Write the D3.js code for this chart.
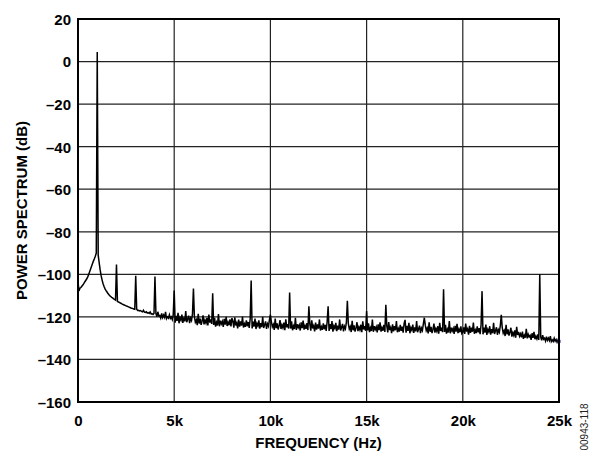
<!DOCTYPE html>
<html>
<head>
<meta charset="utf-8">
<script src="https://cdn.jsdelivr.net/npm/d3@7/dist/d3.min.js"></script>
<style>
  html, body { margin: 0; padding: 0; background: #fff; }
  svg { display: block; }
  text { font-family: "Liberation Sans", Arial, sans-serif; }
</style>
</head>
<body>
<svg id="chart" width="596" height="456"></svg>
<script>
// ---- Data ----
const xTicks = [0, 5000, 10000, 15000, 20000, 25000];
const xTickLabels = ["0", "5k", "10k", "15k", "20k", "25k"];
const yTicks = [20, 0, -20, -40, -60, -80, -100, -120, -140, -160];
const yTickLabels = ["20", "0", "–20", "–40", "–60", "–80", "–100", "–120", "–140", "–160"];

// FFT bin spacing (Hz) of the noise-floor readings below
const binHz = 50;
// Noise floor (dB), one row per kHz, 20 bins per row
const floorDb = [
  -103.5,-107.8,-106.5,-106.2,-105.6,-105.0,-104.4,-103.6,-102.9,-102.2,-101.3,-100.2,-98.9,-97.6,-96.3,-95.0,-93.8,-92.7,-91.5,-90.0,
  -88.5,-91.0,-94.5,-97.8,-100.5,-102.6,-104.3,-105.6,-106.7,-107.5,-108.2,-108.9,-109.5,-110.0,-110.4,-110.8,-111.1,-111.5,-111.8,-112.1,
  -112.4,-112.7,-113.0,-113.2,-113.5,-113.7,-114.0,-114.2,-114.4,-114.6,-114.8,-115.0,-115.2,-115.4,-115.6,-115.8,-115.9,-116.1,-116.3,-116.4,
  -116.6,-116.4,-117.0,-116.9,-117.2,-117.0,-117.4,-117.6,-116.9,-117.8,-117.9,-117.6,-118.2,-118.0,-118.4,-117.7,-118.6,-118.5,-118.9,-118.4,
  -119.2,-118.3,-119.9,-117.6,-119.6,-119.4,-120.6,-118.4,-120.3,-119.1,-120.2,-117.6,-120.8,-120.0,-120.6,-119.0,-120.7,-120.0,-121.2,-118.9,
  -120.8,-122.7,-119.5,-121.9,-118.1,-123.0,-120.4,-121.5,-118.9,-122.8,-120.2,-122.1,-117.3,-122.5,-121.0,-119.4,-122.9,-120.6,-121.7,-118.6,
  -123.4,-120.0,-122.5,-121.4,-123.9,-118.6,-123.1,-120.8,-123.7,-122.0,-119.3,-123.5,-121.6,-122.9,-120.5,-124.0,-118.9,-122.7,-121.2,-123.3,
  -121.7,-123.8,-120.4,-124.6,-122.6,-124.0,-118.7,-124.4,-121.8,-123.3,-122.1,-124.7,-120.9,-123.6,-120.0,-124.3,-122.5,-123.9,-121.2,-124.5,
  -124.3,-122.0,-125.1,-120.2,-124.0,-122.8,-125.4,-121.3,-124.6,-122.1,-124.1,-119.8,-125.0,-123.3,-124.7,-121.6,-124.4,-122.4,-125.2,-120.8,
  -123.5,-125.4,-122.2,-124.6,-120.8,-125.7,-123.1,-124.2,-121.6,-125.5,-122.9,-124.8,-120.0,-125.2,-123.7,-122.1,-125.6,-123.3,-124.4,-121.3,
  -125.6,-122.2,-124.7,-123.6,-126.1,-120.8,-125.3,-123.0,-125.9,-124.2,-121.5,-125.7,-123.8,-125.1,-122.7,-126.2,-121.1,-124.9,-123.4,-125.5,
  -123.4,-125.5,-122.1,-126.3,-124.3,-125.7,-120.4,-126.1,-123.5,-125.0,-123.8,-126.4,-122.6,-125.3,-121.7,-126.0,-124.2,-125.6,-122.9,-126.2,
  -125.7,-123.4,-126.5,-121.6,-125.4,-124.2,-126.8,-122.7,-126.0,-123.5,-125.5,-121.2,-126.4,-124.7,-126.1,-123.0,-125.8,-123.8,-126.6,-122.2,
  -124.7,-126.6,-123.4,-125.8,-122.0,-126.9,-124.3,-125.4,-122.8,-126.7,-124.1,-126.0,-121.2,-126.4,-124.9,-123.3,-126.8,-124.5,-125.6,-122.5,
  -126.6,-123.2,-125.7,-124.6,-127.1,-121.8,-126.3,-124.0,-126.9,-125.2,-122.5,-126.7,-124.8,-126.1,-123.7,-127.2,-122.1,-125.9,-124.4,-126.5,
  -124.3,-126.4,-123.0,-127.2,-125.2,-126.6,-121.3,-127.0,-124.4,-125.9,-124.7,-127.3,-123.5,-126.2,-122.6,-126.9,-125.1,-126.5,-123.8,-127.1,
  -126.5,-124.2,-127.3,-122.4,-126.2,-125.0,-127.6,-123.5,-126.8,-124.3,-126.3,-122.0,-127.2,-125.5,-126.9,-123.8,-126.6,-124.6,-127.4,-123.0,
  -125.5,-127.4,-124.2,-126.6,-122.8,-127.7,-125.1,-126.2,-123.6,-127.5,-124.9,-126.8,-122.0,-127.2,-125.7,-124.1,-127.6,-125.3,-126.4,-123.3,
  -127.3,-123.9,-126.4,-125.3,-127.8,-122.5,-127.0,-124.7,-127.6,-125.9,-123.2,-127.4,-125.5,-126.8,-124.4,-127.9,-122.8,-126.6,-125.1,-127.2,
  -125.0,-127.1,-123.7,-127.9,-125.9,-127.3,-122.0,-127.7,-125.1,-126.6,-125.4,-128.0,-124.2,-126.9,-123.3,-127.6,-125.8,-127.2,-124.5,-127.8,
  -127.2,-124.9,-128.0,-123.1,-126.9,-125.7,-128.3,-124.2,-127.5,-125.0,-127.0,-122.7,-127.9,-126.2,-127.6,-124.5,-127.3,-125.3,-128.1,-123.7,
  -126.3,-128.2,-125.0,-127.4,-123.6,-128.5,-125.9,-127.0,-124.4,-128.3,-125.7,-127.6,-122.8,-128.0,-126.5,-124.9,-128.4,-126.1,-127.2,-124.1,
  -128.5,-125.1,-127.6,-126.5,-129.0,-123.7,-128.2,-125.9,-128.8,-127.1,-125.1,-129.3,-127.4,-128.7,-126.3,-129.8,-124.7,-128.5,-127.0,-129.1,
  -128.0,-129.6,-126.9,-130.3,-128.7,-129.8,-125.6,-130.1,-128.2,-129.4,-128.7,-130.8,-127.7,-129.9,-127.0,-130.5,-129.1,-130.3,-128.2,-130.8,
  -130.6,-129.5,-131.0,-128.6,-130.5,-130.0,-131.3,-129.3,-131.0,-130.0,-131.1,-129.0,-131.6,-130.8,-131.5,-130.0,-131.4,-130.6,-131.9,-130.8,
  -131.5
];

// Fundamental and spurious tones: frequency (Hz) and peak level (dB)
const toneHz = [1000, 2000, 3000, 4000, 5000, 6000, 7000, 8000, 9000, 10000, 11000, 12000, 13000, 14000, 15000, 16000, 17000, 18000, 19000, 21000, 22000, 24000];
const toneDb = [4.5, -95.4, -100.7, -101.0, -107.6, -106.7, -108.9, -120.6, -102.9, -119.0, -108.5, -115.0, -115.0, -112.4, -117.3, -114.3, -121.4, -120.4, -107.0, -107.9, -119.0, -100.0];

const xTitle = "FREQUENCY (Hz)";
const yTitle = "POWER SPECTRUM (dB)";
const noteText = "00943-118";

(function draw() {
  const series = floorDb.map((v, i) => ({ f: i * binHz, db: v }));
  toneHz.forEach((f, k) => {
    const i = Math.round(f / binHz);
    if (series[i]) series[i].db = Math.max(series[i].db, toneDb[k]);
  });

  const svg = d3.select("#chart");
  const pL = 78, pR = 559, pT = 19, pB = 402;
  const FS = 15;

  const x = d3.scaleLinear().domain([0, 25000]).range([pL, pR]);
  const y = d3.scaleLinear().domain([-160, 20]).range([pB, pT]);

  const grid = svg.append("g");
  grid.selectAll("line.gx")
    .data(xTicks.slice(1, -1))
    .join("line")
    .attr("x1", d => x(d)).attr("x2", d => x(d))
    .attr("y1", pT).attr("y2", pB)
    .attr("stroke", "#222").attr("stroke-width", 1.2);
  grid.selectAll("line.gy")
    .data(yTicks.slice(1, -1))
    .join("line")
    .attr("y1", d => y(d)).attr("y2", d => y(d))
    .attr("x1", pL).attr("x2", pR)
    .attr("stroke", "#222").attr("stroke-width", 1.2);

  const line = d3.line().x(d => x(d.f)).y(d => y(d.db));
  svg.append("path")
    .datum(series)
    .attr("d", line)
    .attr("fill", "none")
    .attr("stroke", "#000")
    .attr("stroke-width", 1.5)
    .attr("stroke-linejoin", "miter");

  const last = series[series.length - 1];
  svg.append("rect")
    .attr("x", x(last.f) - 1.5).attr("y", y(last.db) - 1.5)
    .attr("width", 3).attr("height", 3)
    .attr("fill", "#1a1aa0");

  svg.append("rect")
    .attr("x", pL).attr("y", pT)
    .attr("width", pR - pL).attr("height", pB - pT)
    .attr("fill", "none").attr("stroke", "#000").attr("stroke-width", 2);

  const xAxis = d3.axisBottom(x).tickValues(xTicks).tickSize(0).tickPadding(0)
    .tickFormat((d, i) => xTickLabels[i]);
  const gx = svg.append("g").attr("transform", `translate(0,${pB})`).call(xAxis);
  gx.select(".domain").remove();
  gx.selectAll("text")
    .attr("dy", null).attr("y", 23.5)
    .style("font-size", FS + "px").style("font-weight", "bold")
    .style("font-family", "'Liberation Sans', Arial, sans-serif")
    .attr("fill", "#000");

  const yAxis = d3.axisLeft(y).tickValues(yTicks).tickSize(0).tickPadding(7)
    .tickFormat((d, i) => yTickLabels[i]);
  const gy = svg.append("g").attr("transform", `translate(${pL},0)`).call(yAxis);
  gy.select(".domain").remove();
  gy.selectAll("text")
    .attr("dy", "0.36em")
    .style("font-size", FS + "px").style("font-weight", "bold")
    .style("font-family", "'Liberation Sans', Arial, sans-serif")
    .attr("fill", "#000");

  svg.append("text")
    .attr("x", (pL + pR) / 2).attr("y", 447.5)
    .attr("text-anchor", "middle")
    .style("font-size", FS + "px").style("font-weight", "bold")
    .text(xTitle);

  svg.append("text")
    .attr("transform", `translate(26.5,${(pT + pB) / 2}) rotate(-90)`)
    .attr("text-anchor", "middle")
    .style("font-size", FS + "px").style("font-weight", "bold")
    .text(yTitle);

  svg.append("text")
    .attr("transform", `translate(588,427) rotate(-90)`)
    .attr("text-anchor", "middle")
    .style("font-size", "10px")
    .attr("fill", "#222")
    .text(noteText);
})();
</script>
</body>
</html>
